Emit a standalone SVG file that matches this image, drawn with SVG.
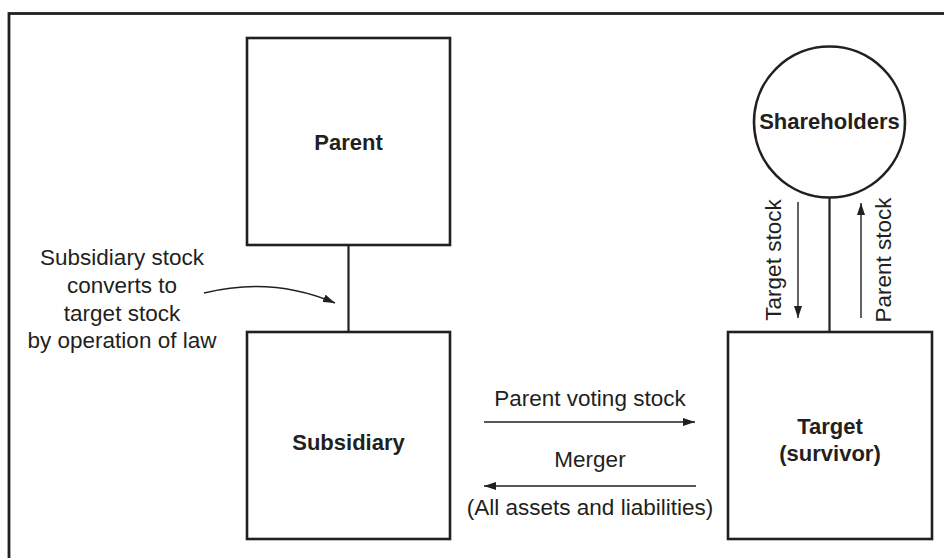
<svg xmlns="http://www.w3.org/2000/svg" width="944" height="558" viewBox="0 0 944 558">
  <defs>
    <style>
      .box { fill: #fff; stroke: #231f20; stroke-width: 2.6; }
      .link { fill: none; stroke: #231f20; stroke-width: 2.2; }
      .flow { fill: none; stroke: #231f20; stroke-width: 1.4; }
      .lbl { font-family: "Liberation Sans", Arial, sans-serif; font-size: 22.5px; fill: #231f20; text-anchor: middle; }
      .name { font-family: "Liberation Sans", Arial, sans-serif; font-size: 22px; font-weight: bold; fill: #231f20; text-anchor: middle; }
    </style>
    <marker id="head" viewBox="0 0 12 8" refX="12" refY="4" markerWidth="12" markerHeight="8" markerUnits="userSpaceOnUse" orient="auto">
      <path d="M0,0 L12,4 L0,8 Z" fill="#231f20"/>
    </marker>
  </defs>

  <rect width="944" height="558" fill="#fff"/>

  <!-- outer frame, running off the right and bottom edges -->
  <rect x="9" y="13.5" width="950" height="560" fill="none" stroke="#231f20" stroke-width="2.8"/>

  <!-- connectors -->
  <g id="connectors">
    <line class="link" x1="348.5" y1="245" x2="348.5" y2="332"/>
    <line class="link" x1="829.5" y1="197" x2="829.5" y2="332"/>
    <path class="flow" d="M204,293 Q272,276 335,303" marker-end="url(#head)"/>
    <line class="flow" x1="484" y1="422" x2="695" y2="422" marker-end="url(#head)"/>
    <line class="flow" x1="696" y1="486" x2="484" y2="486" marker-end="url(#head)"/>
    <line class="flow" x1="798" y1="202" x2="798" y2="318" marker-end="url(#head)"/>
    <line class="flow" x1="861" y1="318" x2="861" y2="203" marker-end="url(#head)"/>
  </g>

  <!-- edge labels -->
  <g id="labels">
    <text class="lbl" x="122" y="265">Subsidiary stock</text>
    <text class="lbl" x="122" y="293">converts to</text>
    <text class="lbl" x="122" y="321">target stock</text>
    <text class="lbl" x="122" y="348">by operation of law</text>
    <text class="lbl" x="590" y="406">Parent voting stock</text>
    <text class="lbl" x="590" y="467">Merger</text>
    <text class="lbl" x="590" y="515">(All assets and liabilities)</text>
    <text class="lbl" transform="translate(781,260) rotate(-90)">Target stock</text>
    <text class="lbl" transform="translate(891,260) rotate(-90)">Parent stock</text>
  </g>

  <g id="parent">
    <rect class="box" x="247" y="38" width="203" height="207"/>
    <text class="name" x="348.5" y="150">Parent</text>
  </g>

  <g id="subsidiary">
    <rect class="box" x="247" y="332" width="203" height="207"/>
    <text class="name" x="348.5" y="450">Subsidiary</text>
  </g>

  <g id="shareholders">
    <circle class="box" cx="829.5" cy="122" r="75.5" stroke-width="2.4"/>
    <text class="name" x="829.5" y="129">Shareholders</text>
  </g>

  <g id="target">
    <rect class="box" x="728" y="332" width="204" height="207"/>
    <text class="name" x="830" y="434">Target</text>
    <text class="name" x="830" y="461">(survivor)</text>
  </g>
</svg>
